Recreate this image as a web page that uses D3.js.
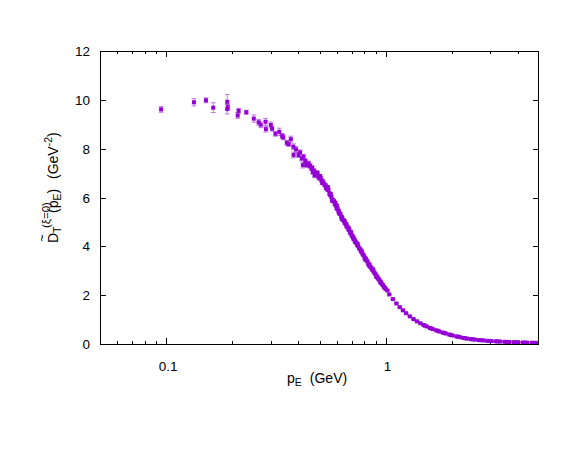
<!DOCTYPE html>
<html>
<head>
<meta charset="utf-8">
<script src="https://cdn.jsdelivr.net/npm/d3@7"></script>
<style>
    body { margin: 0; background: #fff; }
    svg { display: block; font-family: "Liberation Sans", Arial, sans-serif; }
</style>
</head>
<body>
<div class="chart"></div>
<script>
// momentum p_E (GeV)
const pE = [
    0.0949, 0.134, 0.152, 0.164, 0.190, 0.190, 0.191, 0.212, 0.214, 0.232,
    0.251, 0.264, 0.270, 0.284, 0.285, 0.300, 0.304, 0.315, 0.328, 0.338,
    0.342, 0.355, 0.362, 0.370, 0.380, 0.381, 0.391, 0.401, 0.408, 0.415,
    0.420, 0.423, 0.431, 0.438, 0.446, 0.453,
    0.460, 0.466, 0.472, 0.478, 0.484, 0.490, 0.495, 0.500, 0.506, 0.511,
    0.517, 0.522, 0.528, 0.533, 0.539, 0.544, 0.549, 0.555, 0.560, 0.566,
    0.571, 0.577, 0.582, 0.588, 0.594, 0.599, 0.605, 0.611, 0.617, 0.622,
    0.628, 0.634, 0.640, 0.646, 0.652, 0.658, 0.664, 0.670, 0.677, 0.683,
    0.689, 0.696, 0.702, 0.709, 0.715, 0.722, 0.729, 0.736, 0.743, 0.750,
    0.757, 0.764, 0.772, 0.779, 0.787, 0.795, 0.803, 0.811, 0.819, 0.827,
    0.835, 0.844, 0.852, 0.861, 0.870, 0.879, 0.888, 0.897, 0.906, 0.915,
    0.925, 0.934, 0.944, 0.953, 0.963, 0.973, 0.983, 0.993, 1.000,
    0.475, 0.503, 0.536, 0.562, 0.590, 0.613, 0.650, 0.680, 0.712, 0.745,
    0.775, 0.808, 0.840, 0.875, 0.910, 0.948,
    0.463, 0.487, 0.514, 0.546, 0.572, 0.600, 0.632, 0.662, 0.695, 0.726,
    1.02, 1.04, 1.08, 1.12, 1.16, 1.20, 1.24, 1.29, 1.34, 1.39,
    1.44, 1.49, 1.54, 1.59, 1.64, 1.70, 1.76, 1.82, 1.88, 1.95,
    2.02, 2.10, 2.18, 2.26, 2.35, 2.45, 2.55, 2.66, 2.78, 2.90,
    3.03, 3.17, 3.32, 3.48, 3.65, 3.83, 4.02, 4.22, 4.43, 4.65,
    4.88, 5.00,
    1.51, 1.61, 1.73, 1.85, 1.98, 2.14, 2.30, 2.50, 2.72, 2.96,
    3.24, 3.56, 3.92, 4.32, 4.76
]

// propagator D_T (GeV^-2)
const dT = [
    9.61, 9.90, 9.98, 9.68, 9.92, 9.62, 9.70, 9.36, 9.55, 9.49,
    9.23, 9.08, 8.98, 9.10, 8.80, 8.97, 8.82, 8.61, 8.69, 8.52,
    8.46, 8.24, 8.18, 8.39, 8.08, 7.74, 7.97, 7.74, 7.85, 7.60,
    7.33, 7.67, 7.50, 7.33, 7.40, 7.29,
    7.18, 7.04, 7.10, 6.96, 6.92, 6.98, 6.84, 6.78, 6.80, 6.70,
    6.66, 6.58, 6.52, 6.49, 6.40, 6.33, 6.30, 6.16, 6.10, 6.03,
    5.92, 5.88, 5.84, 5.72, 5.68, 5.56, 5.52, 5.45, 5.34, 5.33,
    5.22, 5.18, 5.08, 5.06, 4.96, 4.92, 4.82, 4.80, 4.70, 4.66,
    4.56, 4.52, 4.44, 4.40, 4.30, 4.27, 4.18, 4.14, 4.05, 4.02,
    3.92, 3.90, 3.80, 3.76, 3.67, 3.63, 3.54, 3.50, 3.42, 3.38,
    3.29, 3.25, 3.16, 3.12, 3.04, 3.00, 2.92, 2.88, 2.80, 2.76,
    2.68, 2.64, 2.57, 2.52, 2.45, 2.41, 2.34, 2.30, 2.25,
    6.90, 6.88, 6.38, 6.15, 5.78, 5.38, 5.02, 4.74, 4.36, 4.10,
    3.83, 3.46, 3.22, 3.06, 2.74, 2.52,
    7.22, 7.02, 6.60, 6.42, 5.86, 5.66, 5.12, 4.90, 4.58, 4.20,
    2.19, 2.03, 1.84, 1.66, 1.51, 1.38, 1.26, 1.13, 1.02, 0.93,
    0.85, 0.78, 0.72, 0.66, 0.61, 0.56, 0.51, 0.47, 0.43, 0.39,
    0.35, 0.31, 0.28, 0.25, 0.22, 0.20, 0.18, 0.16, 0.15, 0.13,
    0.12, 0.11, 0.10, 0.09, 0.08, 0.075, 0.07, 0.06, 0.055, 0.05,
    0.045, 0.045,
    0.75, 0.64, 0.54, 0.45, 0.37, 0.30, 0.24, 0.19, 0.155, 0.125,
    0.105, 0.085, 0.072, 0.058, 0.048
]

// statistical errors
const dTerr = [
    0.12, 0.15, 0.10, 0.20, 0.30, 0.20, 0.12, 0.12, 0.10, 0.08,
    0.15, 0.12, 0.12, 0.14, 0.12, 0.12, 0.10, 0.10, 0.15, 0.10,
    0.10, 0.10, 0.08, 0.12, 0.12, 0.12, 0.12, 0.10, 0.10, 0.10,
    0.12, 0.10, 0.09, 0.10, 0.09, 0.10,
    0.08, 0.08, 0.07, 0.07, 0.07, 0.07, 0.07, 0.06, 0.06, 0.06,
    0.06, 0.06, 0.06, 0.06, 0.06, 0.06, 0.05, 0.05, 0.05, 0.05,
    0.05, 0.05, 0.05, 0.05, 0.05, 0.05, 0.05, 0.05, 0.05, 0.04,
    0.04, 0.04, 0.04, 0.04, 0.04, 0.04, 0.04, 0.04, 0.04, 0.04,
    0.04, 0.04, 0.04, 0.04, 0.04, 0.04, 0.04, 0.04, 0.04, 0.04,
    0.03, 0.03, 0.03, 0.03, 0.03, 0.03, 0.03, 0.03, 0.03, 0.03,
    0.03, 0.03, 0.03, 0.03, 0.03, 0.03, 0.03, 0.03, 0.03, 0.03,
    0.03, 0.03, 0.03, 0.03, 0.02, 0.02, 0.02, 0.02, 0.02,
    0.07, 0.06, 0.06, 0.05, 0.05, 0.05, 0.04, 0.04, 0.04, 0.04,
    0.03, 0.03, 0.03, 0.03, 0.03, 0.03,
    0.08, 0.07, 0.06, 0.06, 0.05, 0.05, 0.04, 0.04, 0.04, 0.04,
    0.02, 0.02, 0.02, 0.02, 0.02, 0.02, 0.02, 0.01, 0.01, 0.01,
    0.01, 0.01, 0.01, 0.01, 0.01, 0.01, 0.01, 0.01, 0.01, 0.01,
    0.01, 0.01, 0.01, 0.01, 0.01, 0.01, 0.01, 0.01, 0.01, 0.01,
    0.01, 0.01, 0.01, 0.01, 0.01, 0.01, 0.01, 0.01, 0.01, 0.01,
    0.01, 0.01,
    0.01, 0.01, 0.01, 0.01, 0.01, 0.01, 0.01, 0.01, 0.01, 0.01,
    0.01, 0.01, 0.01, 0.01, 0.01
]

const xMajor = [0.1, 1]
const xMinor = [0.06, 0.07, 0.08, 0.09, 0.2, 0.3, 0.4, 0.5, 0.6, 0.7, 0.8, 0.9, 2, 3, 4]
const yTicks = [0, 2, 4, 6, 8, 10, 12]

const width = 581
const height = 449
const margin = { top: 51, right: 42, bottom: 105, left: 100 }
const color = '#9400d3'

const svg = d3.select('.chart').append('svg')
    .attr('width', width)
    .attr('height', height)

const x = d3.scaleLog()
    .domain([0.05, 5])
    .range([margin.left, width - margin.right])
const y = d3.scaleLinear()
    .domain([0, 12])
    .range([height - margin.bottom, margin.top])

const x0 = x.range()[0], x1 = x.range()[1]
const y0 = y.range()[0], y1 = y.range()[1]

svg.append('defs').append('clipPath')
    .attr('id', 'plotclip')
    .append('rect')
    .attr('x', x0 - 3).attr('y', y1)
    .attr('width', x1 - x0 + 3).attr('height', y0 - y1 + 1)

// ticks (inward, mirrored)
const ticks = svg.append('g').attr('stroke', '#000').attr('stroke-width', 1)
const tickLen = (v) => xMajor.includes(v) ? 6 : 3
xMajor.concat(xMinor).forEach((v) => {
    const px = Math.round(x(v)) + 0.5
    ticks.append('line').attr('x1', px).attr('x2', px).attr('y1', y0).attr('y2', y0 - tickLen(v))
    ticks.append('line').attr('x1', px).attr('x2', px).attr('y1', y1).attr('y2', y1 + tickLen(v))
})
yTicks.forEach((v) => {
    const py = Math.round(y(v)) + 0.5
    ticks.append('line').attr('x1', x0).attr('x2', x0 + 6).attr('y1', py).attr('y2', py)
    ticks.append('line').attr('x1', x1).attr('x2', x1 - 6).attr('y1', py).attr('y2', py)
})

// tick labels
svg.append('g').selectAll('text')
    .data(xMajor)
    .enter()
    .append('text')
    .attr('x', (d) => x(d) + 2)
    .attr('y', y0 + 27)
    .attr('text-anchor', 'middle')
    .attr('font-size', 13.5)
    .text((d) => d)

svg.append('g').selectAll('text')
    .data(yTicks)
    .enter()
    .append('text')
    .attr('x', x0 - 10)
    .attr('y', (d) => y(d) + 5)
    .attr('text-anchor', 'end')
    .attr('font-size', 13.5)
    .text((d) => d)

// data
const data = pE.map((p, i) => ({ p: p, d: dT[i], e: dTerr[i] }))
const plot = svg.append('g').attr('clip-path', 'url(#plotclip)')

const bars = plot.append('g')
    .attr('stroke', color)
    .attr('stroke-opacity', 0.5)
    .attr('stroke-width', 1)
    .attr('fill', 'none')
bars.selectAll('path')
    .data(data)
    .enter()
    .append('path')
    .attr('d', (d) => {
        const cx = x(d.p), ya = y(d.d + d.e), yb = y(d.d - d.e)
        return 'M' + cx + ',' + ya + 'V' + yb +
            'M' + (cx - 2.5) + ',' + ya + 'H' + (cx + 2.5) +
            'M' + (cx - 2.5) + ',' + yb + 'H' + (cx + 2.5)
    })

plot.append('g').selectAll('rect')
    .data(data)
    .enter()
    .append('rect')
    .attr('x', (d) => x(d.p) - 2)
    .attr('y', (d) => y(d.d) - 2)
    .attr('width', 4)
    .attr('height', 4)
    .attr('fill', color)

// frame
svg.append('rect')
    .attr('x', x0 + 0.5).attr('y', y1 + 0.5)
    .attr('width', x1 - x0 - 1).attr('height', y0 - y1)
    .attr('fill', 'none')
    .attr('stroke', '#000')

// x label
const xl = svg.append('text')
    .attr('x', 287)
    .attr('y', 383)
    .attr('font-size', 14)
xl.append('tspan').text('p')
xl.append('tspan').attr('font-size', 10.5).attr('dy', 3).text('E')
xl.append('tspan').attr('dy', -3).attr('dx', 8).text('(GeV)')

// y label (rotated)
const yl = svg.append('g').attr('transform', 'translate(58,0) rotate(-90)')
yl.append('text').attr('x', -243).attr('y', 0).attr('font-size', 14).text('D')
yl.append('text').attr('x', -238).attr('y', -12).attr('font-size', 12)
    .attr('text-anchor', 'middle').text('~')
yl.append('text').attr('x', -233).attr('y', 3).attr('font-size', 10.5).text('T')
yl.append('text').attr('x', -228).attr('y', -8).attr('font-size', 11.5).text('(ξ=0)')
const yp = yl.append('text').attr('x', -213).attr('y', 0).attr('font-size', 14)
yp.append('tspan').text('(p')
yp.append('tspan').attr('font-size', 10.5).attr('dy', 3).text('E')
yp.append('tspan').attr('dy', -3).text(')')
const yg = yl.append('text').attr('x', -179).attr('y', 0).attr('font-size', 14)
yg.append('tspan').text('(GeV')
yg.append('tspan').attr('font-size', 10.5).attr('dy', -6).text('-2')
yg.append('tspan').attr('dy', 6).text(')')
</script>
</body>
</html>
